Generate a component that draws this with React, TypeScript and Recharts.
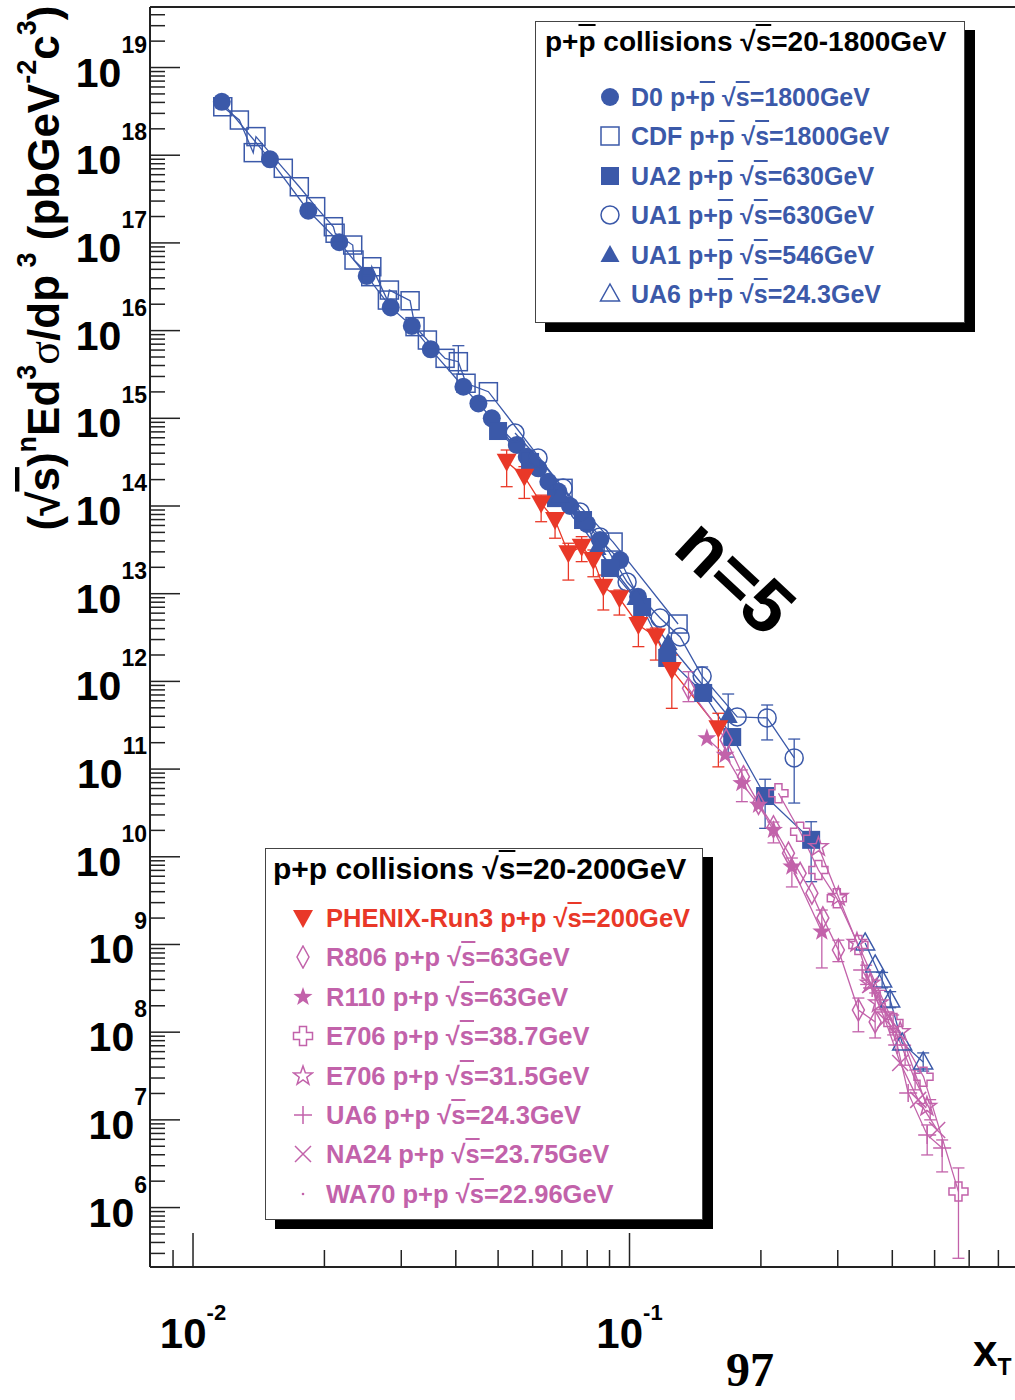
import React from 'react'
import { ComposedChart, Line, XAxis, YAxis, ErrorBar, ReferenceLine } from 'recharts'

// [xT, value, errLow?, errHigh?]
type Pt = number[]

const D0: Pt[] = [
  [0.01164, 4.07e18], [0.01501, 8.98e17], [0.01837, 2.33e17], [0.02163, 1.02e17],
  [0.025, 4.2e16], [0.02838, 1.84e16], [0.03171, 1.13e16], [0.03505, 6.12e15],
  [0.04163, 2.29e15], [0.04506, 1.48e15], [0.04836, 1.0e15], [0.05518, 4.97e14],
  [0.05816, 3.65e14], [0.06181, 2.69e14], [0.06517, 1.89e14], [0.06871, 1.46e14],
  [0.07309, 1.0e14], [0.07991, 6.24e13], [0.08561, 4.09e13], [0.09517, 2.42e13],
  [0.1046, 9.2e12],
]

const CDF: Pt[] = [
  [0.0117, 3.57e18], [0.01277, 2.52e18], [0.01374, 1.07e18], [0.01394, 1.63e18],
  [0.0161, 7.09e17], [0.01752, 4.37e17], [0.0191, 2.59e17], [0.02097, 1.53e17],
  [0.02116, 1.29e17], [0.02322, 9.46e16], [0.02338, 6.38e16], [0.02554, 4.12e16],
  [0.02568, 5.35e16], [0.02788, 2.23e16], [0.02818, 2.9e16], [0.03143, 2.19e16],
  [0.03226, 1.11e16], [0.03443, 7.81e15], [0.0378, 4.83e15], [0.04054, 4.42e15, 3.2e15, 6.73e15],
  [0.04222, 2.51e15], [0.0475, 2.01e15], [0.07044, 1.59e14], [0.09171, 3.88e13],
  [0.1292, 4.51e12],
]

const UA2: Pt[] = [
  [0.04999, 7.16e14], [0.05918, 3.18e14], [0.06786, 1.23e14], [0.07826, 6.92e13],
  [0.09027, 1.96e13], [0.1069, 7.05e12], [0.122, 1.85e12], [0.1475, 7.38e11],
  [0.1719, 2.32e11], [0.2045, 4.93e10, 2.11e10, 7.66e10], [0.2607, 1.56e10, 5.2e9, 2.51e10],
]

const UA1_630: Pt[] = [
  [0.05466, 6.8e14], [0.06173, 3.53e14], [0.07044, 1.6e14], [0.07703, 8.55e13],
  [0.08561, 4.43e13], [0.09874, 1.36e13], [0.1175, 5.28e12], [0.1306, 3.21e12],
  [0.1467, 1.15e12, 8.63e11, 1.46e12], [0.1765, 3.93e11], [0.2067, 3.83e11, 2.15e11, 5.38e11],
  [0.2384, 1.34e11, 4.1e10, 2.2e11],
]

const UA1_546: Pt[] = [
  [0.06934, 1.33e14], [0.08427, 3.32e13], [0.1035, 8.93e12], [0.1226, 2.74e12],
  [0.1683, 4.03e11, 1.37e11, 7.18e11],
]

const UA6_PBAR: Pt[] = [
  [0.3466, 1.04e9], [0.3654, 5.84e8], [0.3791, 3.94e8, 3.2e8, 4.8e8], [0.3956, 2.33e8, 1.9e8, 2.9e8],
  [0.4214, 7.53e7], [0.4708, 4.57e7, 3.6e7, 5.8e7],
]

const PHENIX: Pt[] = [
  [0.05231, 3.2e14, 1.66e14, 4.35e14], [0.05743, 2.16e14, 1.22e14, 2.81e14],
  [0.06274, 1.07e14, 6.62e13, 1.33e14], [0.06752, 6.92e13, 4.29e13, 8.26e13],
  [0.07244, 2.89e13, 1.43e13, 3.76e13], [0.0777, 3.44e13, 2.32e13, 4.47e13],
  [0.08264, 2.42e13, 1.56e13, 3.15e13], [0.08711, 1.2e13, 6.52e12, 1.63e13],
  [0.09482, 8.87e12, 5.71e12, 1.1e13], [0.1048, 4.4e12, 2.49e12, 5.47e12],
  [0.1149, 3.24e12, 1.75e12, 4.06e12], [0.125, 1.35e12, 4.93e11, 2.0e12],
  [0.1598, 2.92e11, 1.06e11, 4.33e11],
]

const R806: Pt[] = [
  [0.1365, 8.34e11, 5.87e11, 1.29e12], [0.1665, 2.15e11], [0.1824, 8.19e10], [0.1975, 4.07e10],
  [0.2137, 2.2e10], [0.2313, 1.1e10], [0.246, 6.48e9], [0.2617, 3.84e9], [0.2773, 2.01e9],
  [0.301, 8.65e8, 6.37e8, 1.12e9], [0.3345, 1.79e8, 1.01e8, 2.45e8], [0.3654, 1.31e8, 8.59e7, 2.8e8],
]

const R110: Pt[] = [
  [0.1504, 2.24e11], [0.1656, 1.45e11], [0.1809, 6.89e10, 4.25e10, 9.77e10], [0.1975, 3.9e10],
  [0.2137, 2.02e10, 1.44e10, 2.49e10], [0.2355, 7.71e9, 4.53e9, 9.68e9], [0.2758, 1.4e9, 5.4e8, 2.47e9],
]

const E706_387: Pt[] = [
  [0.2194, 5.3e10], [0.246, 1.93e10], [0.2709, 7.07e9], [0.2985, 3.36e9], [0.3345, 9.86e8],
  [0.4024, 1.27e8], [0.4716, 3.11e7], [0.5671, 1.52e6, 2.64e5, 2.83e6],
]

const E706_315: Pt[] = [
  [0.2709, 1.3e10], [0.301, 3.51e9], [0.3319, 1.05e9], [0.3558, 3.61e8], [0.3718, 2.15e8],
  [0.417, 1.01e8], [0.4801, 1.42e7],
]

const UA6_PP: Pt[] = [
  [0.3412, 5.12e8], [0.3597, 3.19e8], [0.3852, 1.7e8], [0.4105, 7.15e7], [0.4349, 2.03e7],
  [0.4808, 6.73e6, 3.98e6, 8.75e6], [0.5203, 4.79e6, 2.55e6, 5.9e6],
]

const NA24: Pt[] = [
  [0.3558, 3.45e8], [0.3852, 1.38e8], [0.417, 4.46e7], [0.4586, 1.69e7], [0.5068, 7.67e6],
]

const WA70: Pt[] = [
  [0.3485, 4.49e8, 3.5e8, 5.8e8], [0.3752, 2.33e8, 1.8e8, 3.0e8], [0.4018, 1.21e8, 9.3e7, 1.57e8],
  [0.428, 5.5e7, 4.2e7, 7.1e7], [0.4511, 2.85e7, 2.2e7, 3.7e7], [0.4885, 1.3e7, 1.0e7, 1.7e7],
]

const X_MIN = 0.00797
const X_MAX = 1
const Y_MIN = 2.1e5
const Y_MAX = 4.9e19

const X_TICKS = [0.009, 0.01, 0.02, 0.03, 0.04, 0.05, 0.06, 0.07, 0.08, 0.09, 0.1, 0.2, 0.3, 0.4, 0.5, 0.6, 0.7, 0.8, 0.9]
const Y_EXPONENTS = [5, 6, 7, 8, 9, 10, 11, 12, 13, 14, 15, 16, 17, 18, 19]
const Y_MULT = [1, 2, 3, 4, 5, 6, 7, 8, 9]
const Y_TICKS = Y_EXPONENTS.flatMap((e) => Y_MULT.map((m) => m * 10 ** e)).filter((v) => v >= Y_MIN && v <= Y_MAX)

const BLUE = '#3b59a9'
const RED = '#e93828'
const PINK = '#c262aa'
const AXIS = '#222'
const FONT = '"Liberation Sans", Arial, Helvetica, sans-serif'
const SERIF = '"Liberation Serif", "Times New Roman", serif'

const SERIES = [
  { id: 'd0', name: 'D0', pbar: true, energy: '1800', pts: D0, color: BLUE, marker: 'circleF', box: 'top' },
  { id: 'cdf', name: 'CDF', pbar: true, energy: '1800', pts: CDF, color: BLUE, marker: 'squareO', box: 'top' },
  { id: 'ua2', name: 'UA2', pbar: true, energy: '630', pts: UA2, color: BLUE, marker: 'squareF', box: 'top' },
  { id: 'ua1a', name: 'UA1', pbar: true, energy: '630', pts: UA1_630, color: BLUE, marker: 'circleO', box: 'top' },
  { id: 'ua1b', name: 'UA1', pbar: true, energy: '546', pts: UA1_546, color: BLUE, marker: 'triUpF', box: 'top' },
  { id: 'ua6a', name: 'UA6', pbar: true, energy: '24.3', pts: UA6_PBAR, color: BLUE, marker: 'triUpO', box: 'top' },
  { id: 'phx', name: 'PHENIX-Run3', pbar: false, energy: '200', pts: PHENIX, color: RED, marker: 'triDownF', box: 'bottom' },
  { id: 'r806', name: 'R806', pbar: false, energy: '63', pts: R806, color: PINK, marker: 'diamondO', box: 'bottom' },
  { id: 'r110', name: 'R110', pbar: false, energy: '63', pts: R110, color: PINK, marker: 'starF', box: 'bottom' },
  { id: 'e706a', name: 'E706', pbar: false, energy: '38.7', pts: E706_387, color: PINK, marker: 'crossO', box: 'bottom' },
  { id: 'e706b', name: 'E706', pbar: false, energy: '31.5', pts: E706_315, color: PINK, marker: 'starO', box: 'bottom' },
  { id: 'ua6b', name: 'UA6', pbar: false, energy: '24.3', pts: UA6_PP, color: PINK, marker: 'plus', box: 'bottom' },
  { id: 'na24', name: 'NA24', pbar: false, energy: '23.75', pts: NA24, color: PINK, marker: 'xmark', box: 'bottom' },
  { id: 'wa70', name: 'WA70', pbar: false, energy: '22.96', pts: WA70, color: PINK, marker: 'dot', box: 'bottom' },
]

const rows = (pts: Pt[]) =>
  pts.map(([x, y, lo, hi]) => ({ x, y, err: lo != null && hi != null ? [y - lo, hi - y] : undefined }))

const starPoints = (x: number, y: number, R: number, r: number) => {
  const out: string[] = []
  for (let i = 0; i < 10; i++) {
    const a = -Math.PI / 2 + (i * Math.PI) / 5
    const rad = i % 2 === 0 ? R : r
    out.push(`${x + rad * Math.cos(a)},${y + rad * Math.sin(a)}`)
  }
  return out.join(' ')
}

function Marker({ kind, x, y, color }: { kind: string; x: number; y: number; color: string }) {
  const sw = 1.5
  const open = { fill: 'none', stroke: color, strokeWidth: sw }
  switch (kind) {
    case 'circleF':
      return <circle cx={x} cy={y} r={9} fill={color} />
    case 'circleO':
      return <circle cx={x} cy={y} r={9} {...open} />
    case 'squareF':
      return <rect x={x - 9} y={y - 9} width={18} height={18} fill={color} />
    case 'squareO':
      return <rect x={x - 9} y={y - 9} width={18} height={18} {...open} />
    case 'triUpF':
      return <polygon points={`${x},${y - 10} ${x + 9.5},${y + 7} ${x - 9.5},${y + 7}`} fill={color} />
    case 'triUpO':
      return <polygon points={`${x},${y - 10} ${x + 9.5},${y + 7} ${x - 9.5},${y + 7}`} {...open} />
    case 'triDownF':
      return <polygon points={`${x - 10},${y - 8} ${x + 10},${y - 8} ${x},${y + 10}`} fill={color} />
    case 'diamondO':
      return <polygon points={`${x},${y - 11} ${x + 6},${y} ${x},${y + 11} ${x - 6},${y}`} {...open} />
    case 'starF':
      return <polygon points={starPoints(x, y, 10, 4)} fill={color} />
    case 'starO':
      return <polygon points={starPoints(x, y, 10, 4)} {...open} />
    case 'crossO': {
      const a = 3.5
      const L = 9.5
      const p = [
        [-a, -L], [a, -L], [a, -a], [L, -a], [L, a], [a, a],
        [a, L], [-a, L], [-a, a], [-L, a], [-L, -a], [-a, -a],
      ].map(([dx, dy]) => `${x + dx},${y + dy}`).join(' ')
      return <polygon points={p} {...open} />
    }
    case 'plus':
      return <path d={`M${x - 9},${y}H${x + 9}M${x},${y - 9}V${y + 9}`} {...open} />
    case 'xmark':
      return <path d={`M${x - 8},${y - 8}L${x + 8},${y + 8}M${x + 8},${y - 8}L${x - 8},${y + 8}`} {...open} />
    default:
      return <circle cx={x} cy={y} r={1.3} fill={color} />
  }
}

const dotFor = (kind: string, color: string) => (p: any) =>
  p.cx == null || p.cy == null ? (
    <g key={p.index} />
  ) : (
    <Marker key={p.index} kind={kind} x={p.cx} y={p.cy} color={color} />
  )

const isMajor = (v: number) => {
  const l = Math.log10(v)
  return Math.abs(l - Math.round(l)) < 1e-9
}

const YTick = (props: any) => {
  const { x, y, payload } = props
  const major = isMajor(payload.value)
  return (
    <g>
      <line x1={x} x2={x + (major ? 30 : 15)} y1={y} y2={y} stroke={AXIS} strokeWidth={1.5} />
      {major && (
        <text x={x - 3} y={y + 19} textAnchor="end" fontSize={41} fontWeight="bold" fill="#000" fontFamily={FONT}>
          10
          <tspan fontSize={23} dy={-34}>
            {Math.round(Math.log10(payload.value))}
          </tspan>
        </text>
      )}
    </g>
  )
}

const XTick = (props: any) => {
  const { x, y, payload } = props
  const major = isMajor(payload.value)
  return (
    <g>
      <line x1={x} x2={x} y1={y} y2={y - (major ? 34 : 17)} stroke={AXIS} strokeWidth={1.5} />
      {major && (
        <text x={x} y={y + 81} textAnchor="middle" fontSize={42} fontWeight="bold" fill="#000" fontFamily={FONT}>
          10
          <tspan fontSize={22} dy={-28}>
            {Math.round(Math.log10(payload.value))}
          </tspan>
        </text>
      )}
    </g>
  )
}

const OVER: React.CSSProperties = { textDecoration: 'overline', textDecorationThickness: 2 }

function EntryText({ name, pbar, energy }: { name: string; pbar: boolean; energy: string }) {
  return (
    <span>
      {name} p+<span style={pbar ? OVER : undefined}>p</span> √<span style={OVER}>s</span>={energy}GeV
    </span>
  )
}

function LegendBox({ box, left, top, width, height, title, titleSize, titleLeft, firstRow, markerLeft, gap, textSize }: any) {
  const items = SERIES.filter((s) => s.box === box)
  return (
    <div
      style={{
        position: 'absolute', left, top, width, height, boxSizing: 'border-box',
        border: '1.5px solid #444', background: '#fff', boxShadow: '10px 9px 0 #000',
        fontFamily: FONT, fontWeight: 'bold',
      }}
    >
      <div style={{ position: 'absolute', left: titleLeft, top: 4, fontSize: titleSize, lineHeight: '32px', color: '#000', whiteSpace: 'nowrap' }}>
        {title}
      </div>
      {items.map((s, i) => (
        <div
          key={s.id}
          style={{
            position: 'absolute', left: markerLeft, top: firstRow + i * 39.4 - 14, height: 28,
            display: 'flex', alignItems: 'center', whiteSpace: 'nowrap',
          }}
        >
          <svg width={22} height={24} style={{ marginRight: gap }}>
            <Marker kind={s.marker} x={11} y={12} color={s.color} />
          </svg>
          <span style={{ fontSize: textSize, lineHeight: '28px', color: s.color }}>
            <EntryText name={s.name} pbar={s.pbar} energy={s.energy} />
          </span>
        </div>
      ))}
    </div>
  )
}

export default function App() {
  return (
    <div style={{ position: 'relative', width: 1015, height: 1400, overflow: 'hidden', background: '#fff' }}>
      <style>{'body{margin:0;overflow:hidden}'}</style>
      <ComposedChart width={1070} height={1400} margin={{ top: 7, right: 4, bottom: 0, left: 0 }}>
        <XAxis
          type="number"
          dataKey="x"
          scale="log"
          domain={[X_MIN, X_MAX]}
          allowDataOverflow
          ticks={X_TICKS}
          interval={0}
          tick={(p: any) => <XTick {...p} />}
          tickSize={0}
          tickMargin={0}
          tickLine={false}
          axisLine={{ stroke: AXIS, strokeWidth: 2 }}
          height={133}
        />
        <YAxis
          type="number"
          dataKey="y"
          scale="log"
          domain={[Y_MIN, Y_MAX]}
          allowDataOverflow
          ticks={Y_TICKS}
          interval={0}
          tick={(p: any) => <YTick {...p} />}
          tickSize={0}
          tickMargin={0}
          tickLine={false}
          axisLine={{ stroke: AXIS, strokeWidth: 2 }}
          width={150}
        />
        <ReferenceLine y={Y_MAX} stroke={AXIS} strokeWidth={2} ifOverflow="visible" />
        {SERIES.map((s) => (
          <Line
            key={s.id}
            data={rows(s.pts)}
            dataKey="y"
            type="linear"
            stroke={s.color}
            strokeWidth={1.3}
            dot={dotFor(s.marker, s.color)}
            activeDot={false}
            legendType="none"
            isAnimationActive={false}
          >
            {s.pts.some((p) => p.length > 2) && (
              <ErrorBar dataKey="err" direction="y" width={6} stroke={s.color} strokeWidth={1.3} />
            )}
          </Line>
        ))}
      </ComposedChart>

      <svg width={1015} height={1400} style={{ position: 'absolute', left: 0, top: 0, pointerEvents: 'none' }}>
        <text transform="rotate(-90)" x={-268} y={59} textAnchor="middle" fontSize={44} fontWeight="bold" fontFamily={FONT} fill="#000">
          (√<tspan style={{ textDecoration: 'overline' }}>s</tspan>)
          <tspan fontSize={27} dy={-23}>n</tspan>
          <tspan dy={23}>Ed</tspan>
          <tspan fontSize={27} dy={-23}>3</tspan>
          <tspan dy={23} fontFamily={SERIF} fontWeight="normal">σ</tspan>
          <tspan>/dp</tspan>
          <tspan fontSize={27} dy={-23}> 3</tspan>
          <tspan dy={23}> (pbGeV</tspan>
          <tspan fontSize={27} dy={-23}>-2</tspan>
          <tspan dy={23}>c</tspan>
          <tspan fontSize={27} dy={-23}>3</tspan>
          <tspan dy={23}>)</tspan>
        </text>
        <text transform="translate(734,578) rotate(43)" x={0} y={23} textAnchor="middle" fontSize={74} fontWeight="bold" fontFamily={FONT} fill="#000">
          n=5
        </text>
        <text x={973} y={1366} fontSize={44} fontWeight="bold" fontFamily={FONT} fill="#000">
          x<tspan fontSize={23} dy={9}>T</tspan>
        </text>
        <text x={750} y={1386} textAnchor="middle" fontSize={48} fontWeight="bold" fontFamily={SERIF} fill="#000">
          97
        </text>
      </svg>

      <LegendBox
        box="top" left={535} top={21} width={430} height={302}
        title={<span>p+<span style={OVER}>p</span> collisions √<span style={OVER}>s</span>=20-1800GeV</span>}
        titleSize={28} titleLeft={9} firstRow={75} markerLeft={63} gap={10} textSize={25}
      />
      <LegendBox
        box="bottom" left={265} top={848} width={438} height={372}
        title={<span>p+p collisions √<span style={OVER}>s</span>=20-200GeV</span>}
        titleSize={30} titleLeft={7} firstRow={69} markerLeft={26} gap={12} textSize={25.5}
      />
    </div>
  )
}
